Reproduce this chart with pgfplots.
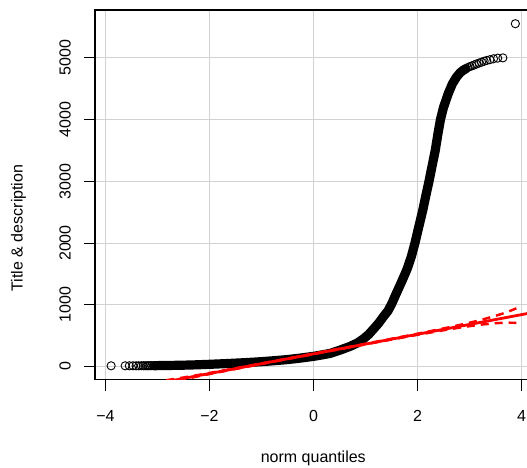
\documentclass[border=0pt]{standalone}
\usepackage{pgfplots}
\pgfplotsset{compat=1.18}
\usepackage{fontspec}
\setmainfont{Liberation Sans}
\pgfplotstableread[row sep=\\]{
x y \\
-3.05 14 \\ -3.0 15 \\ -2.75 18 \\ -2.5 22 \\ -2.25 28 \\ -2.0 36 \\ -1.75 45 \\ -1.5 55 \\
-1.25 66 \\ -1.0 79 \\ -0.75 95 \\ -0.5 113 \\ -0.25 137 \\ 0 165 \\ 0.16 188 \\ 0.32 213 \\
0.5 263 \\ 0.71 329 \\ 0.84 380 \\ 0.96 448 \\ 1.06 520 \\ 1.15 604 \\ 1.25 700 \\ 1.35 815 \\
1.43 900 \\ 1.5 1010 \\ 1.6 1200 \\ 1.7 1385 \\ 1.8 1580 \\ 1.88 1780 \\ 1.95 2000 \\ 2.02 2250 \\
2.1 2530 \\ 2.16 2770 \\ 2.22 3000 \\ 2.28 3250 \\ 2.34 3500 \\ 2.39 3760 \\ 2.44 4000 \\ 2.5 4200 \\
2.59 4421 \\ 2.67 4580 \\ 2.75 4690 \\ 2.82 4760 \\ 2.88 4800 \\ 2.93 4825 \\
}\band
\pgfplotstableread[row sep=\\]{
x y \\
-3.89 12 \\ -3.62 12 \\ -3.54 12 \\ -3.47 12 \\ -3.41 12 \\ -3.36 12 \\ -3.31 13 \\ -3.27 13 \\
-3.235 13 \\ -3.2 13 \\ -3.17 13 \\ -3.14 14 \\ -3.11 14 \\ -3.08 14 \\ -3.05 14 \\ -3.02 15 \\
2.88 4800 \\ 2.93 4825 \\ 2.97 4845 \\ 3.01 4860 \\ 3.05 4872 \\ 3.09 4885 \\ 3.13 4900 \\ 3.18 4915 \\
3.23 4930 \\ 3.28 4945 \\ 3.33 4958 \\ 3.39 4970 \\ 3.46 4985 \\ 3.54 4995 \\ 3.64 5000 \\ 3.88 5553 \\
}\tails
\pgfplotstableread[row sep=\\]{
x up lo \\
-3.9 -297.1 -533.1 \\ -3.5 -291.5 -411.5 \\ -3 -244 -300 \\ -2.5 -177.2 -207.8 \\ -2 -103.6 -122.4 \\
-1.5 -26.9 -40.1 \\ -1 51.1 40.9 \\ 0 209.3 200.7 \\ 1 369.1 358.9 \\ 1.5 450.1 436.9 \\
2 532.4 513.6 \\ 2.5 617.8 587.2 \\ 2.75 662.75 621.75 \\ 3 710 654 \\ 3.25 762.05 681.45 \\
3.5 821.5 701.5 \\ 3.65 861.9 708.9 \\ 3.75 892.05 710.45 \\ 3.85 925.4 709.0 \\ 3.9 943.1 707.1 \\
}\env
\begin{document}
\begin{tikzpicture}
\begin{axis}[
  name=ax, at={(0,0)}, anchor=south west,
  scale only axis, width=437pt, height=369.5pt,
  xmin=-4.2, xmax=4.2, ymin=-210, ymax=5775,
  xtick={-4,-2,0,2,4}, xticklabels={−4,−2,0,2,4},
  ytick={0,1000,2000,3000,4000,5000}, yticklabels={0,1000,2000,3000,4000,5000},
  tick pos=left, tick align=outside, major tick length=11pt,
  tick style={black, line width=0.9pt},
  grid=major, major grid style={color=gray!35, line width=0.9pt},
  axis line style={black, line width=1.1pt},
  ticklabel style={font=\fontsize{16}{19}\selectfont, inner sep=0pt, outer sep=0pt},
  xticklabel style={anchor=base},
  yticklabel style={rotate=90, anchor=base},
  xticklabel shift=30.5pt, yticklabel shift=13.3pt,
  clip=true,
]
\addplot[black, line width=9.2pt, line join=round, line cap=round, no marks] table[x=x, y=y] {\band};
\addplot[only marks, mark=o, mark size=4.1pt, mark options={line width=0.9pt, black}] table[x=x, y=y] {\tails};
\addplot[red, line width=2.8pt, no marks] coordinates {(-4.2,-462.8) (4.2,872.8)};
\addplot[red, line width=2.4pt, no marks, dash pattern=on 8pt off 6pt] table[x=x, y=up] {\env};
\addplot[red, line width=2.4pt, no marks, dash pattern=on 8pt off 6pt] table[x=x, y=lo] {\env};
\end{axis}
\node[rotate=90, anchor=base, font=\fontsize{16}{19}\selectfont, inner sep=0pt] at (-72.4pt,151.5pt) {Title \& description};
\node[anchor=base, font=\fontsize{16}{19}\selectfont, inner sep=0pt] at (218.3pt,-83.2pt) {norm quantiles};
\pgfresetboundingbox
\useasboundingbox (-95pt,-87.5pt) rectangle (432pt,379.5pt);
\end{tikzpicture}
\end{document}
